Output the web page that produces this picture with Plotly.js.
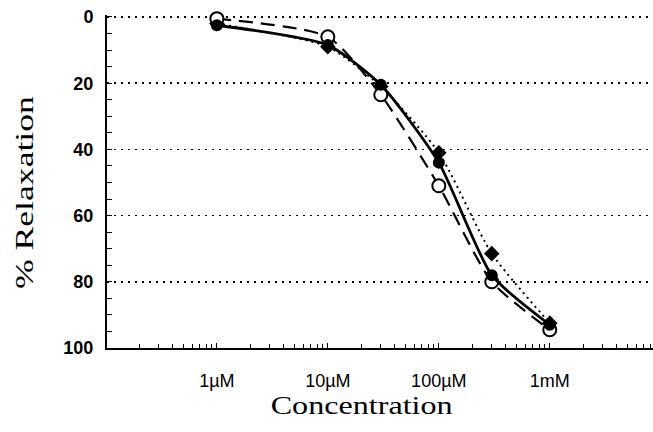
<!DOCTYPE html>
<html><head><meta charset="utf-8">
<script src="https://cdn.plot.ly/plotly-3.0.1.min.js"></script>
<style>html,body{margin:0;padding:0;background:#fff}#chart{width:653px;height:432px}</style>
</head><body><div id="chart"></div>
<script>
// Concentrations in µM
const conc = [1, 10, 30, 100, 300, 1000];
const filledCircle = [2.5, 8.5, 20.5, 44, 78, 93];
const openCircle = [0.5, 6, 23.5, 51, 80, 94.5];
const filledDiamond = [2, 9, 21, 41, 71.5, 92.5];
const tickVals = [1, 10, 100, 1000];
const tickText = ['1µM', '10µM', '100µM', '1mM'];
const yTicks = [0, 20, 40, 60, 80, 100];
const decades = [0.1, 1, 10, 100, 1000];

const minorVals = [];
decades.forEach(d => { for (let k = 1; k <= 9; k++) minorVals.push(d * k); });

const traces = [
  {x: conc, y: filledDiamond, mode: 'lines+markers', line: {color: '#000', width: 2, dash: '2px,4px', shape: 'spline', smoothing: 0.6},
   marker: {symbol: 'diamond', size: 12, color: '#000'}, cliponaxis: false},
  {x: conc, y: openCircle, mode: 'lines+markers', line: {color: '#000', width: 2.2, dash: '14px,8px', shape: 'spline', smoothing: 0.6},
   marker: {symbol: 'circle', size: 13, color: '#fff', line: {color: '#000', width: 2}}, cliponaxis: false},
  {x: conc, y: filledCircle, mode: 'lines+markers', line: {color: '#000', width: 2.8, shape: 'spline', smoothing: 0.6},
   marker: {symbol: 'circle', size: 12, color: '#000'}, cliponaxis: false}
];

const layout = {
  width: 653, height: 432,
  margin: {l: 107, r: 0, t: 15, b: 84},
  paper_bgcolor: '#fff', plot_bgcolor: '#fff',
  showlegend: false,
  xaxis: {
    type: 'log', range: [-0.99, 3.93],
    tickvals: tickVals, ticktext: tickText,
    ticks: 'inside', ticklen: 5, tickcolor: '#000', tickwidth: 1,
    minor: {tickvals: minorVals, ticks: 'inside', ticklen: 4, tickcolor: '#000', tickwidth: 1, showgrid: false},
    showline: true, linecolor: '#000', linewidth: 2,
    showgrid: false, zeroline: false,
    tickfont: {family: 'Liberation Sans, Arial', size: 18, color: '#000'},
    ticklabelstandoff: 15
  },
  yaxis: {
    range: [100, -0.6],
    tickvals: yTicks,
    ticks: 'inside', ticklen: 5, tickcolor: '#000', tickwidth: 1,
    minor: {dtick: 5, ticks: 'inside', ticklen: 5, tickcolor: '#000', tickwidth: 1, showgrid: false},
    showline: true, linecolor: '#000', linewidth: 2,
    showgrid: true, gridcolor: '#000', gridwidth: 1.5, griddash: '2px,5px',
    zeroline: false,
    tickfont: {family: 'Liberation Sans, Arial', size: 18, color: '#000', weight: 'bold'},
    ticklabelstandoff: 8
  },
  annotations: [
    {text: 'Concentration', xref: 'paper', yref: 'paper',
     x: (361 - 107) / 546, y: (348 - 405) / 333, xanchor: 'center', yanchor: 'middle', showarrow: false,
     font: {family: 'Liberation Serif, Times New Roman', size: 26, color: '#000'}},
    {text: '% Relaxation', xref: 'paper', yref: 'paper', textangle: -90,
     x: (25 - 107) / 546, y: (348 - 193) / 333, xanchor: 'center', yanchor: 'middle', showarrow: false,
     font: {family: 'Liberation Serif, Times New Roman', size: 26, color: '#000'}}
  ]
};
Plotly.newPlot('chart', traces, layout, {displayModeBar: false, staticPlot: true}).then(gd => {
  const lens = {'Concentration': 182, '% Relaxation': 193};
  gd.querySelectorAll('text.annotation-text').forEach(t => {
    const L = lens[t.textContent];
    if (L) { t.setAttribute('textLength', L); t.setAttribute('lengthAdjust', 'spacingAndGlyphs'); }
  });
});
</script></body></html>
